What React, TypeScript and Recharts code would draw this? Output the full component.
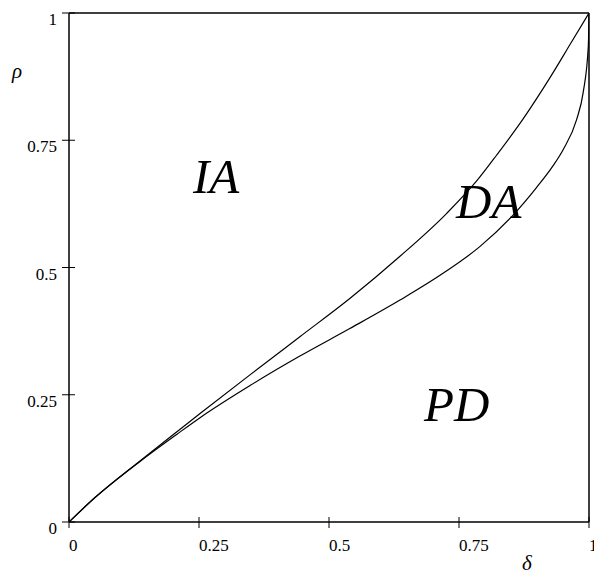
import React from "react";
import { LineChart, Line, XAxis, YAxis, ReferenceLine } from "recharts";

const TICKS = [0, 0.25, 0.5, 0.75, 1];
const TICK_LABELS = ["0", "0.25", "0.5", "0.75", "1"];

// boundary between IA and DA
const upperX = [0, 0.05, 0.1365, 0.207, 0.252, 0.348, 0.444, 0.54, 0.6365, 0.726, 0.784, 0.8225, 0.874, 0.925, 0.9635, 1];
const upperY = [0, 0.048, 0.12, 0.177, 0.213, 0.289, 0.364, 0.439, 0.522, 0.606, 0.67, 0.721, 0.793, 0.873, 0.938, 1];

// boundary between DA and PD
const lowerX = [0, 0.05, 0.1365, 0.207, 0.252, 0.348, 0.444, 0.54, 0.6365, 0.72, 0.79, 0.854, 0.899, 0.931, 0.9505, 0.976, 0.989, 0.9987, 1];
const lowerY = [0, 0.048, 0.119, 0.172, 0.205, 0.268, 0.326, 0.38, 0.436, 0.489, 0.541, 0.603, 0.657, 0.7, 0.732, 0.79, 0.845, 0.935, 1];

const upper = upperX.map((d, i) => ({ d, r: upperY[i] }));
const lower = lowerX.map((d, i) => ({ d, r: lowerY[i] }));

const SERIF = '"Liberation Serif", "Times New Roman", serif';

const label = (v: number) => TICK_LABELS[TICKS.indexOf(v)] ?? String(v);

function XTick({ x, y, payload }: any) {
  return (
    <g>
      <line x1={x} x2={x} y1={y - 5} y2={y + 6} stroke="#000" strokeWidth={1} />
      <text x={x} y={y + 29} textAnchor="start" fontFamily={SERIF} fontSize={17} fill="#000">
        {label(payload.value)}
      </text>
    </g>
  );
}

function YTick({ x, y, payload }: any) {
  return (
    <g>
      <line x1={x - 7} x2={x + 6} y1={y} y2={y} stroke="#000" strokeWidth={1} />
      <text x={x - 12} y={y + 12} textAnchor="end" fontFamily={SERIF} fontSize={17} fill="#000">
        {label(payload.value)}
      </text>
    </g>
  );
}

const regionText = { fontFamily: SERIF, fontStyle: "italic", fontSize: 49, fill: "#000" } as const;

export default function App() {
  return (
    <div style={{ position: "absolute", left: 0, top: 0, background: "#fff" }}>
      <LineChart width={594} height={575} margin={{ top: 13, right: 5, bottom: 0, left: 0 }}>
        <XAxis
          dataKey="d"
          type="number"
          domain={[0, 1]}
          ticks={TICKS}
          tick={<XTick />}
          tickSize={0}
          tickMargin={0}
          height={53}
          axisLine={{ stroke: "#000", strokeWidth: 1.5 }}
          allowDataOverflow
        />
        <YAxis
          dataKey="r"
          type="number"
          domain={[0, 1]}
          ticks={TICKS}
          tick={<YTick />}
          tickSize={0}
          tickMargin={0}
          width={69}
          axisLine={{ stroke: "#000", strokeWidth: 1.5 }}
          allowDataOverflow
        />
        <ReferenceLine y={1} stroke="#000" strokeWidth={1.5} />
        <ReferenceLine x={1} stroke="#000" strokeWidth={1.5} />
        <Line data={upper} dataKey="r" type="monotone" stroke="#000" strokeWidth={1.2} dot={false} isAnimationActive={false} />
        <Line data={lower} dataKey="r" type="monotone" stroke="#000" strokeWidth={1.2} dot={false} isAnimationActive={false} />
        <text x={12} y={78} fontFamily={SERIF} fontStyle="italic" fontSize={21} fill="#000">ρ</text>
        <text x={522} y={570} fontFamily={SERIF} fontStyle="italic" fontSize={21} fill="#000">δ</text>
        <text x={193} y={193} {...regionText}>IA</text>
        <text x={456} y={218} {...regionText}>DA</text>
        <text x={424} y={421} {...regionText}>PD</text>
      </LineChart>
    </div>
  );
}
